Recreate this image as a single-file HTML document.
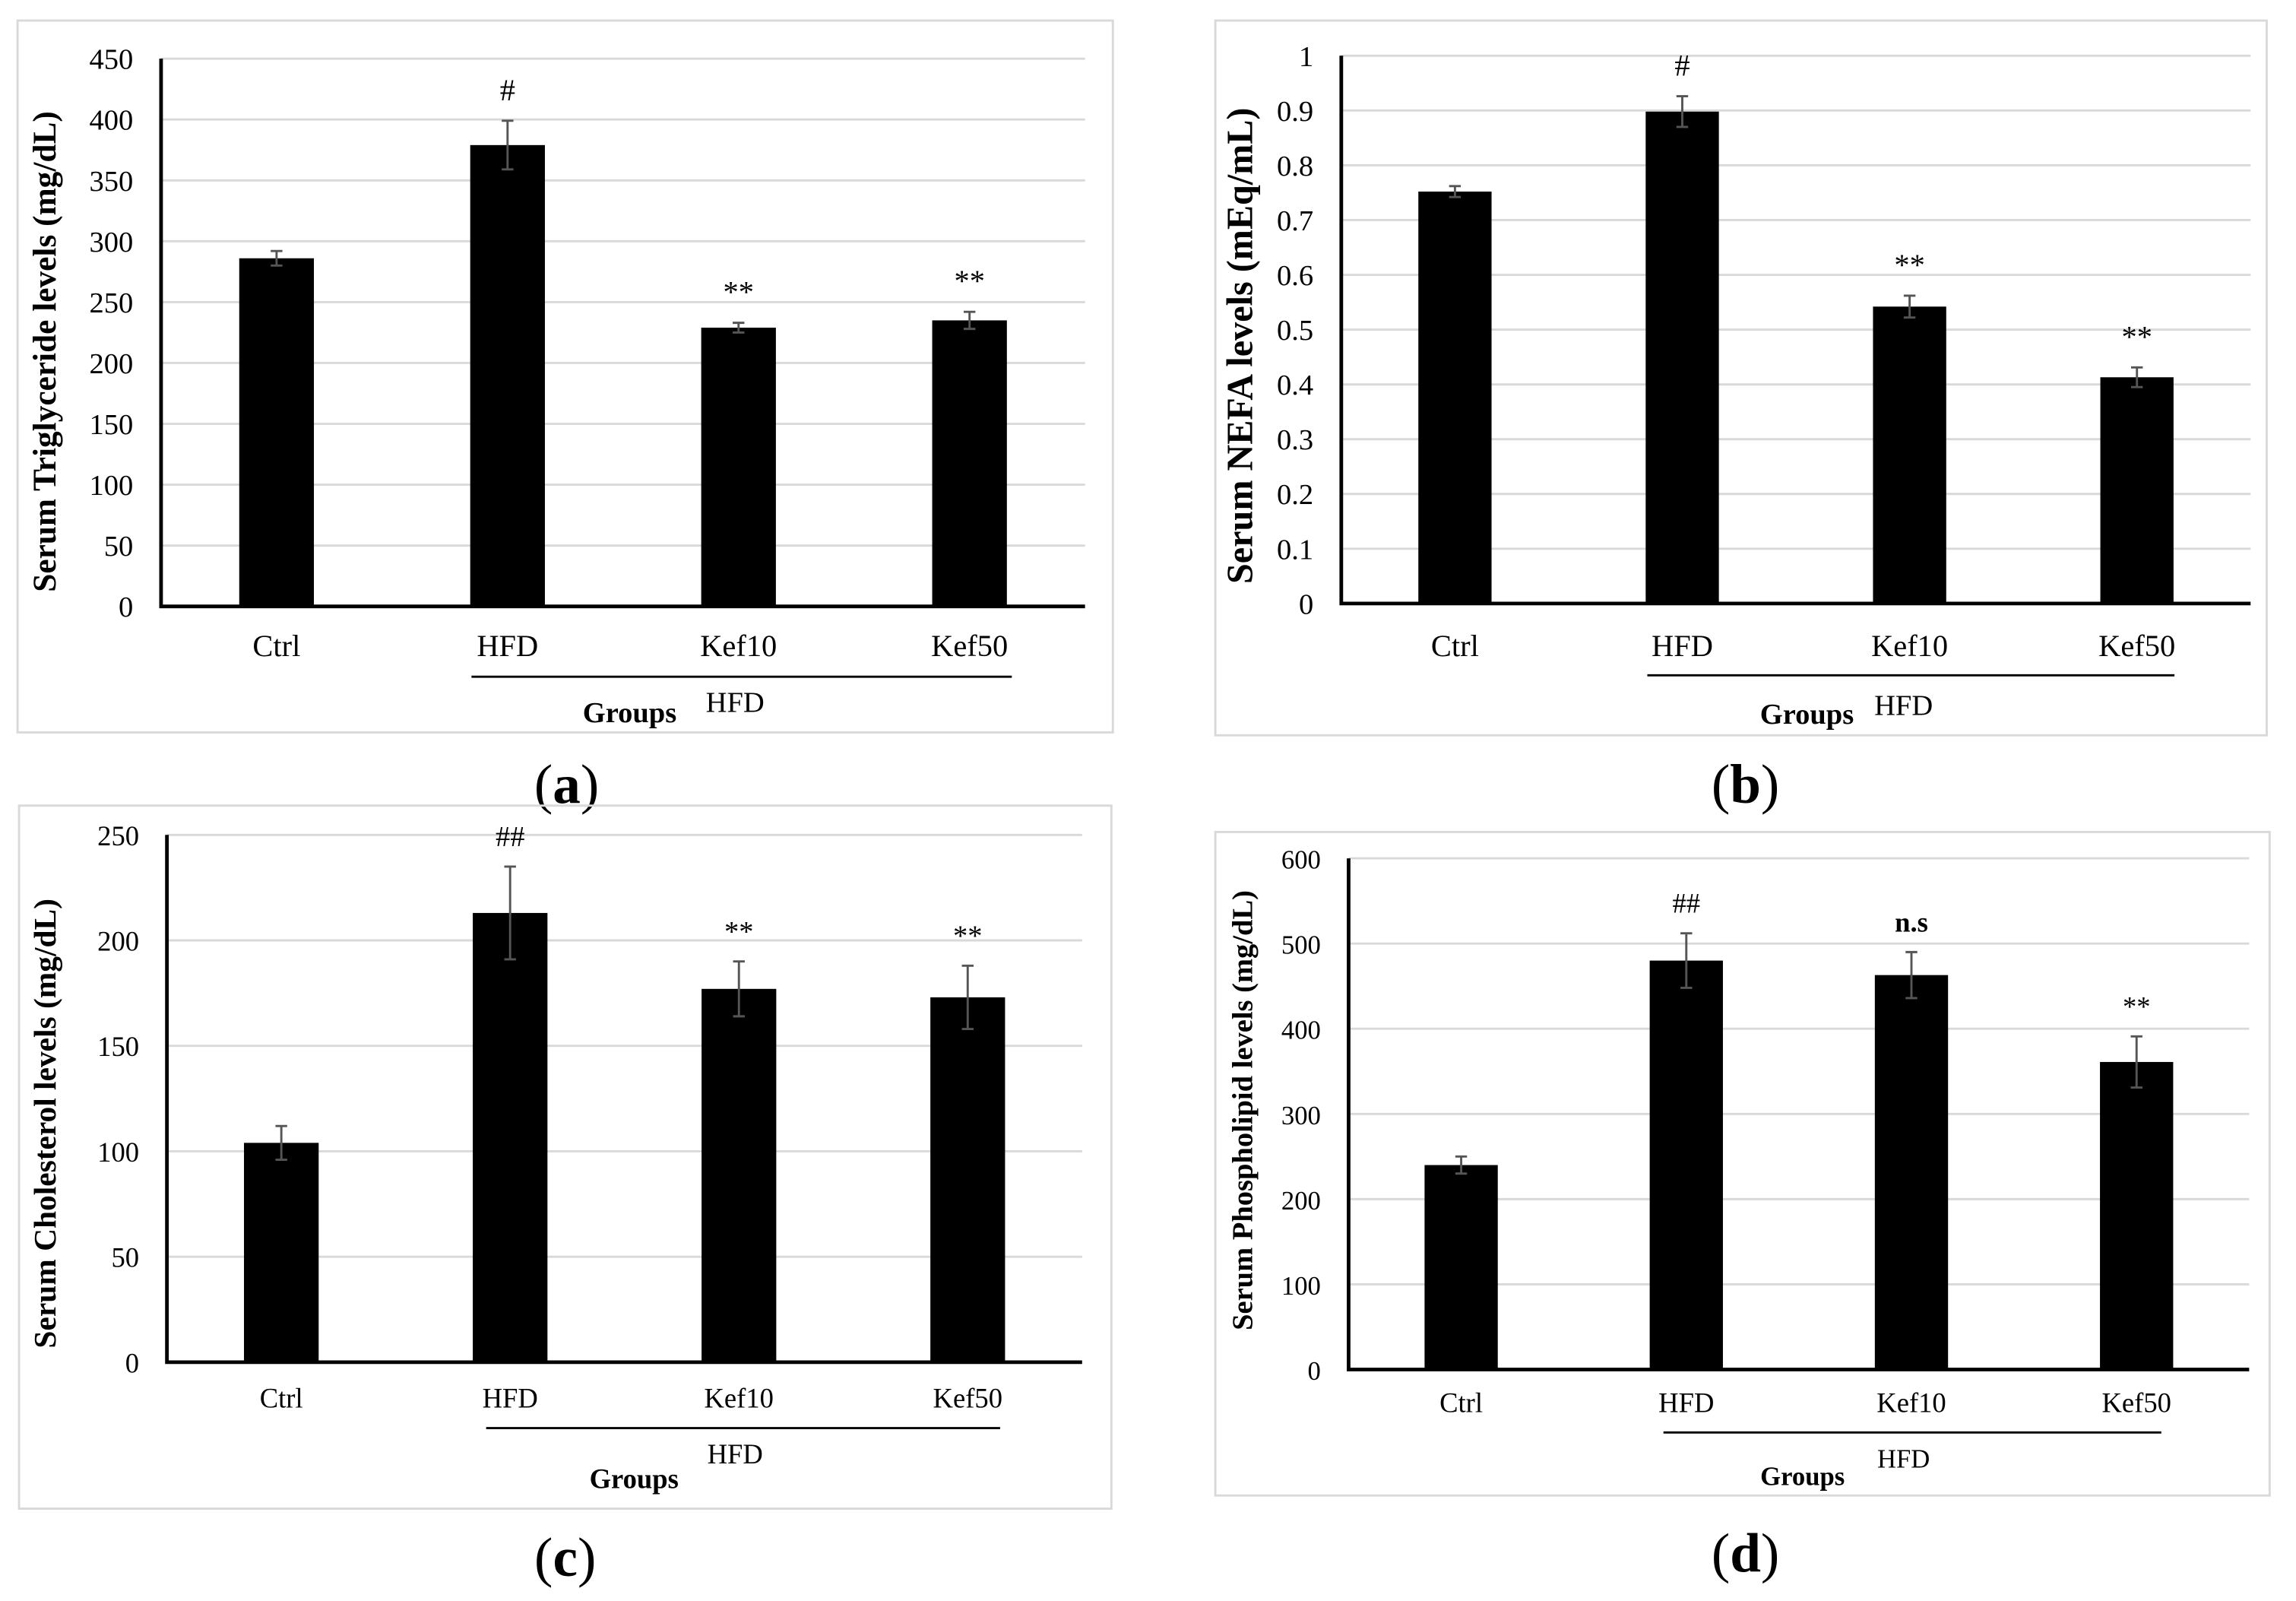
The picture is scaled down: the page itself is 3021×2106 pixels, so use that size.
<!DOCTYPE html>
<html><head><meta charset="utf-8">
<style>
html,body{margin:0;padding:0;background:#fff;}
svg{display:block;}
text{font-family:"Liberation Serif",serif;fill:#000;}
</style></head>
<body>
<svg id="fig" width="3021" height="2106" viewBox="0 0 1568 1093" xmlns="http://www.w3.org/2000/svg"></svg>
<script>
// Panel data
const categories = ["Ctrl","HFD","Kef10","Kef50"];
const trigValues = [286,379,229,235];
const trigErrors = [6,20,4,7];
const trigMarks = ["","#","**","**"];
const trigTicks = [0,50,100,150,200,250,300,350,400,450];
const nefaValues = [0.752,0.898,0.542,0.413];
const nefaErrors = [0.01,0.028,0.02,0.018];
const nefaMarks = ["","#","**","**"];
const nefaTicks = [0,0.1,0.2,0.3,0.4,0.5,0.6,0.7,0.8,0.9,1];
const cholValues = [104,213,177,173];
const cholErrors = [8,22,13,15];
const cholMarks = ["","##","**","**"];
const cholTicks = [0,50,100,150,200,250];
const phosValues = [240,480,463,361];
const phosErrors = [10,32,27,30];
const phosMarks = ["","##","n.s","**"];
const phosTicks = [0,100,200,300,400,500,600];

const NS="http://www.w3.org/2000/svg";
const svg=document.getElementById('fig');
function mk(tag,attrs,parent){const e=document.createElementNS(NS,tag);for(const k in attrs)e.setAttribute(k,attrs[k]);(parent||svg).appendChild(e);return e;}

function panel(cfg){
  const g=mk('g',{});
  
  
  const f=cfg.frame;
  const fr=mk('rect',{x:f[0],y:f[1],width:f[2]-f[0],height:f[3]-f[1],fill:'none',stroke:'#d9d9d9','stroke-width':1.5},g);
  
  
  const x0=cfg.ax, xEnd=cfg.xEnd, yTop=cfg.yTop, yBot=cfg.yBot;
  const tmax=cfg.ticks[cfg.ticks.length-1];
  const ys=v=>yBot-(v/tmax)*(yBot-yTop);
  cfg.ticks.forEach(t=>{
    if(t>0){const gl=mk('line',{x1:x0,x2:xEnd,y1:ys(t),y2:ys(t),stroke:'#d9d9d9','stroke-width':1.5},g);
      }
    const tl=mk('text',{x:x0-19,y:ys(t)+7,'text-anchor':'end','font-size':cfg.tfs},g);
    tl.textContent=String(t);
    
  });
  const n=categories.length, step=(xEnd-x0)/n;
  const xc=i=>x0+step*(i+0.5);
  const bw=cfg.bw;
  categories.forEach((c,i)=>{
    const v=cfg.values[i], e=cfg.errors[i];
    const b=mk('rect',{x:xc(i)-bw/2,y:ys(v),width:bw,height:yBot-ys(v),fill:'#000'},g);
    
    const eb=mk('path',{d:`M${xc(i)} ${ys(v+e)}V${ys(v-e)}M${xc(i)-4} ${ys(v+e)}H${xc(i)+4}M${xc(i)-4} ${ys(v-e)}H${xc(i)+4}`,stroke:'#555','stroke-width':1.5,fill:'none'},g);
    
    if(cfg.marks[i]){
      const m=mk('text',{x:xc(i),y:ys(v+e)-14,'text-anchor':'middle','font-size':cfg.tfs+1,'font-weight':cfg.marks[i]==='n.s'?'bold':'normal'},g);
      m.textContent=cfg.marks[i];
      
    }
    const cl=mk('text',{x:xc(i),y:cfg.catY,'text-anchor':'middle','font-size':cfg.cfs},g);
    cl.textContent=c;
    
  });
  const ax=mk('path',{d:`M${x0} ${yTop}V${yBot}H${xEnd}`,stroke:'#000','stroke-width':2.5,fill:'none'},g);
  
  const ul=mk('line',{x1:cfg.ul[0],x2:cfg.ul[1],y1:cfg.ul[2],y2:cfg.ul[2],stroke:'#000','stroke-width':1.5},g);
  
  const gt=mk('text',{x:cfg.grp[0],y:cfg.grp[1],'text-anchor':'middle','font-size':cfg.tfs,'font-weight':'bold'},g);
  gt.textContent='Groups';
  const ht=mk('text',{x:cfg.hfd[0],y:cfg.hfd[1],'text-anchor':'middle','font-size':cfg.tfs},g);
  ht.textContent='HFD';
  const yt=mk('text',{x:0,y:0,'text-anchor':'middle','font-size':cfg.yfs,'font-weight':'bold',transform:`translate(${cfg.yt[0]},${cfg.yt[1]}) rotate(-90)`},g);
  yt.textContent=cfg.ytitle;
  const pl=mk('text',{x:cfg.lbl[0],y:cfg.lbl[1],'text-anchor':'middle','font-size':38},g);
  
  pl.innerHTML='(<tspan font-weight="bold">'+cfg.letter+'</tspan>)';
}

panel({name:'panel-a-triglyceride',frame:[12,14,760,500],ax:110,xEnd:741,yTop:40,yBot:414,ticks:trigTicks,values:trigValues,errors:trigErrors,marks:trigMarks,bw:51,catY:448,ul:[322,691,462],grp:[430,493],hfd:[502,486],yt:[38,240],ytitle:'Serum Triglyceride levels (mg/dL)',lbl:[387,548],letter:'a',tfs:20,cfs:21,yfs:22.5});
panel({name:'panel-b-nefa',frame:[830,14,1548,502],ax:916,xEnd:1537,yTop:38,yBot:412,ticks:nefaTicks,values:nefaValues,errors:nefaErrors,marks:nefaMarks,bw:50,catY:448,ul:[1125,1485,461],grp:[1234,494],hfd:[1300,488],yt:[855,236],ytitle:'Serum NEFA levels (mEq/mL)',lbl:[1192,548],letter:'b',tfs:20,cfs:21,yfs:25});
panel({name:'panel-c-cholesterol',frame:[13,550,759,1030],ax:114,xEnd:739,yTop:570,yBot:930,ticks:cholTicks,values:cholValues,errors:cholErrors,marks:cholMarks,bw:51,catY:961,ul:[332,683,975],grp:[433,1016],hfd:[502,999],yt:[38,767],ytitle:'Serum Cholesterol levels (mg/dL)',lbl:[386,1076],letter:'c',tfs:19,cfs:19,yfs:21.5});
panel({name:'panel-d-phospholipid',frame:[830,568,1550,1021],ax:921,xEnd:1536,yTop:586,yBot:935,ticks:phosTicks,values:phosValues,errors:phosErrors,marks:phosMarks,bw:50,catY:964,ul:[1136,1476,978],grp:[1231,1014],hfd:[1300,1002],yt:[855,758],ytitle:'Serum Phospholipid levels (mg/dL)',lbl:[1192,1073],letter:'d',tfs:18,cfs:19,yfs:20});
</script>
</body></html>
